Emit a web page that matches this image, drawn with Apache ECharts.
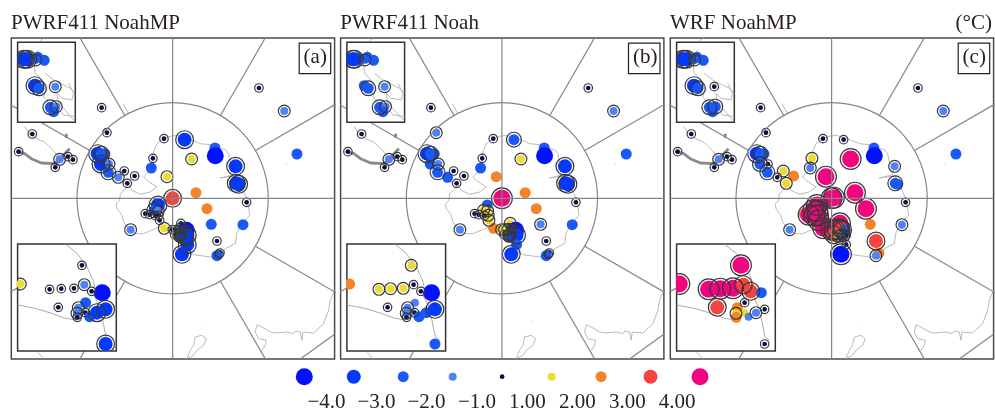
<!DOCTYPE html>
<html><head><meta charset="utf-8">
<style>html,body{margin:0;padding:0;background:#fff}#c{width:995px;height:412px}</style>
<script src="https://cdn.jsdelivr.net/npm/echarts@6/dist/echarts.min.js"></script>
</head><body><div id="c"></div>
<script>
// Classes 0..8 follow the legend. A trailing r means the station carries the outer ring; '-' means not drawn.
const legendLabels = ['\u22124.0','\u22123.0','\u22122.0','\u22121.0','1.00','2.00','3.00','4.00'];
const legendLabelX = [0.45,1.46,2.47,3.49,4.51,5.52,6.53,7.54];
const classColors = ['#0412fb','#0438fb','#1a58f8','#4f82f6','#0b0b4a','#ecdc30','#f4832a','#f5433f','#f0057f'];
const classSizes = [17,14,11,8,4.7,8,11,14,17];
const panelTitles = ['PWRF411 NoahMP','PWRF411 Noah','WRF NoahMP'];
const panelTags = ['(a)','(b)','(c)'];

const mainX = [776,852,890,304,320,96,55,178,203,218,165,292,303,314,302,326,324,354,372,403,381,458,453,491,553,574,644,645,706,708,715,739,587,620,633,728,650,659,656,650,500,517,524,473,462,474,476,478,435,448,465,391,
  492,542,516,525,536,544,550,558,523,545,539,538,538,545,548,554,561,561,545];
const mainY = [263,332,461,322,397,401,454,477,469,478,501,460,460,461,491,491,516,531,512,527,549,474,503,415,418,476,443,466,498,549,552,606,577,625,672,673,722,758,762,766,529,594,592,614,630,632,645,660,640,643,646,688,
  684,669,688,688,687,684,689,690,703,699,703,708,711,707,710,707,704,733,762];
const mainA = ['4r','3r','2','4r','4r','4r','4r','3r','4r','4r','4r','1r','2r','2','1r','3r','2r','3r','4r','4r','4r','4r','2','4r','1r','5r','2','0','1r','1r','1r','4r','6','6','2','2','4r','4r','4r','2','5r','7r','-','1r','2r','3r','4r','4r','4r','4r','4r','3r',
  '5r','4r','4r','4r','4r','3r','4r','0','4r','2','3r','3r','4r','4r','2','1r','1r','1r','1r'];
const mainB = ['4r','3r','2','4r','3r','4r','4r','3r','4r','4r','4r','1r','2r','2','2','3r','2r','2','4r','4r','4r','4r','2','4r','2r','5r','2','0','1r','1r','1r','4r','6','6','3r','2','4r','4r','4r','2','6','8r','-','2','5r','5r','5r','5r','4r','4r','4r','3r',
  '6','5r','5r','5r','5r','4r','4r','0','4r','3','3r','3r','4r','4r','2','2','1r','2','1r'];
const mainC = ['4r','3r','2','4r','4r','4r','4r','3r','4r','4r','4r','1r','2r','2','2r','4r','2r','4r','5r','6','5r','5r','3r','4r','4r','8r','2','0','3r','2r','2','4r','8r','8r','6','3r','7r','6','-','3r','8r','8r','8r','8r','8r','8r','8r','8r','6','8r','8r','3r',
  '8r','8r','8r','8r','8r','7r','7r','2','7r','4r','6','5r','6','5','3','3r','4r','4r','0r'];

const topX = [70,75,82,106,113,132,104,116,165,150,168,160];
const topY = [178,178,178,180,172,181,257,265,260,322,320,335];
const topA = ['1r','1r','1r','3r','2','2','1r','2r','3r','2r','3r','2'];
const topB = ['1r','1r','-','3r','2','2','2','2r','3r','2r','3r','2'];
const topC = ['1r','1r','1r','3r','2','2','1r','2r','4r','2r','2r','2'];

const lowX = [60,245,148,183,221,252,274,306,174,256,234,230,231,255,268,290,316,316];
const lowY = [852,796,868,866,865,854,874,878,922,908,923,940,952,938,950,938,928,1032];
const lowA = ['5r','4r','4r','4r','4r','3r','4r','0','4r','2','3r','3r','4r','4r','2','1r','1r','1r'];
const lowB = ['6','5r','5r','5r','5r','4r','4r','0','4r','3','3r','3r','4r','4r','2','2','1r','2'];
const lowC = ['8r','8r','8r','8r','8r','7r','7r','2','7r','4r','6','5r','6','5','3','3r','4r','4r'];

const mainCoasts = [
  [[490,415],[510,408],[530,405],[570,417],[600,430],[630,433],[655,445],[675,447],[685,460],[690,485],[705,505],[700,522],[675,530],[660,533],[685,529],[708,527],[725,565],[738,590],[745,620],[748,645],[730,665],[710,697],[705,730],[675,745],[670,760],[630,770],[580,763],[565,753],[555,745],[549,700],[520,690],[490,675],[430,700],[410,700],[392,695],[370,665],[365,645],[350,625],[348,610],[358,600],[360,580],[372,570],[385,552],[395,570],[420,582],[450,575],[470,560],[440,540],[430,530],[450,510],[455,490],[458,460],[470,430],[490,415]],
  [[73,378],[88,400],[108,415],[133,425],[143,435],[163,455],[173,470]],
  [[605,1005],[618,1015],[610,1035],[590,1050],[580,1065],[560,1075],[555,1075],[570,1050],[580,1035],[585,1010],[605,1005]],
  [[785,1050],[795,1035],[798,1020],[775,1015],[765,995],[770,973],[785,980],[810,995],[825,998],[860,995],[880,1000],[885,992],[900,995],[905,1020],[908,995],[940,998],[970,970],[985,930],[990,900],[1003,870]],
  [[112,1056],[132,1076]],[[120,122],[132,113]],[[368,310],[385,340]],[[607,960],[609,961]],[[855,490],[858,493]]
];
const thickCoasts = [
  [[48,453],[73,460],[93,475],[123,488],[163,490],[183,470],[208,445]],
  [[198,400],[198,412]]
];
const topCoasts = [
  [[115,150],[100,180],[105,220],[120,235],[140,270],[130,290],[145,310],[175,325],[190,345],[225,350]],
  [[135,220],[160,240],[190,255],[210,265],[225,280]],
  [[205,250],[220,280],[215,300],[185,295],[170,280],[175,310],[190,325],[220,360]]
];
const lowCoasts = [
  [[195,732],[230,760],[260,800],[280,845],[285,870],[280,885],[295,915],[307,960],[317,1010],[330,1020]],
  [[52,915],[105,925],[155,940],[195,955],[230,960]],
  [[262,1001],[264,1003]]
];
const sideLines = [[[900,1076],[1003,1002]]];

const rayAngles = [30,60,120,150,210,240,300,330];
const poleCenter = [517,594];
const ringRadius = 287;

const panelLefts = [11.3,340.6,670.3];
const panelTagged = [[mainA,topA,lowA],[mainB,topB,lowB],[mainC,topC,lowC]];

function stations(xs,ys,codes){
  const fills=[],rings=[];
  codes.forEach((c,i)=>{
    if(c==='-')return;
    const k=parseInt(c);
    fills.push([xs[i],ys[i],k]);
    if(c.endsWith('r'))rings.push([xs[i],ys[i],k]);
  });
  return {fills,rings};
}
function fillItem(p,api){
  const k=api.value(2),c=api.coord([api.value(0),api.value(1)]);
  return {type:'circle',shape:{cx:c[0],cy:c[1],r:classSizes[k]/2},style:{fill:classColors[k]}};
}
function ringItem(p,api){
  const k=api.value(2),c=api.coord([api.value(0),api.value(1)]);
  return {type:'circle',shape:{cx:c[0],cy:c[1],r:classSizes[k]/2+1.9},style:{fill:'none',stroke:'#383838',lineWidth:1.2}};
}
function circleItem(p,api){
  const c=api.coord([api.value(0),api.value(1)]);
  return {type:'circle',shape:{cx:c[0],cy:c[1],r:api.size([api.value(2),0])[0]},style:{fill:'none',stroke:'#858585',lineWidth:1.2}};
}

const grids=[],xAxes=[],yAxes=[],series=[],titles=[],graphics=[];
function addGrid(l,t,w,h,xr,yr,z,border){
  grids.push({show:true,left:l,top:t,width:w,height:h,z:z,backgroundColor:z>2?'#fff':'transparent',borderColor:border,borderWidth:1.5});
  const i=grids.length-1;
  xAxes.push({gridIndex:i,type:'value',min:xr[0],max:xr[1],show:false});
  yAxes.push({gridIndex:i,type:'value',min:yr[0],max:yr[1],inverse:true,show:false});
  return i;
}
function addLine(i,pts,color,width,z){
  series.push({type:'line',xAxisIndex:i,yAxisIndex:i,data:pts,showSymbol:false,silent:true,z:z,clip:true,animation:false,
    lineStyle:{color:color,width:width}});
}
function addMarks(i,set,z){
  const common={type:'custom',xAxisIndex:i,yAxisIndex:i,clip:true,silent:true,z:z,encode:{x:0,y:1},animation:false};
  series.push(Object.assign({},common,{renderItem:fillItem,data:set.fills}));
  series.push(Object.assign({},common,{renderItem:ringItem,data:set.rings}));
}

panelLefts.forEach((L,p)=>{
  const [ma,ta,la]=panelTagged[p];
  const g=addGrid(L,38,323.3,321,[33,1003],[113,1076],1,'#4a4a4a');
  mainCoasts.forEach(c=>addLine(g,c,'#a8a8a8',0.8,2));
  thickCoasts.forEach(c=>addLine(g,c,'#8a8a8a',2.8,2));
  sideLines.forEach(c=>addLine(g,c,'#858585',1.2,2));
  addMarks(g,stations(mainX,mainY,ma),3);
  addLine(g,[[33,poleCenter[1]],[1003,poleCenter[1]]],'#858585',1.2,4);
  addLine(g,[[poleCenter[0],113],[poleCenter[0],1076]],'#858585',1.2,4);
  rayAngles.forEach(a=>{
    const s=Math.sin(a*Math.PI/180),co=Math.cos(a*Math.PI/180);
    addLine(g,[[poleCenter[0]+ringRadius*s,poleCenter[1]-ringRadius*co],[poleCenter[0]+1000*s,poleCenter[1]-1000*co]],'#858585',1.2,4);
  });
  series.push({type:'custom',xAxisIndex:g,yAxisIndex:g,silent:true,z:4,encode:{x:0,y:1},renderItem:circleItem,
    data:[[poleCenter[0],poleCenter[1],ringRadius]],animation:false});

  const t=addGrid(L+6.3,42.3,57.7,80,[52,225],[127,367],5,'#333');
  topCoasts.forEach(c=>addLine(t,c,'#a8a8a8',0.8,6));
  addMarks(t,stations(topX,topY,ta),7);

  const b=addGrid(L+6.3,244,98.7,107,[52,348],[732,1053],5,'#333');
  lowCoasts.forEach(c=>addLine(b,c,'#a0a0a0',0.9,6));
  addMarks(b,stations(lowX,lowY,la),7);

  titles.push({text:panelTitles[p],left:L-0.3,top:13,padding:0,textStyle:{fontFamily:'Liberation Serif',fontSize:21,fontWeight:'normal',color:'#2a2020'}});
  graphics.push({type:'rect',left:L+287.3,top:42.5,shape:{width:31.5,height:30.5},style:{fill:'#fff',stroke:'#222',lineWidth:1.2},z:20});
  graphics.push({type:'text',left:L+292.3,top:47,style:{text:panelTags[p],font:'21px "Liberation Serif"',fill:'#2a2020'},z:21});
});
titles.push({text:'(\u00b0C)',right:3,top:13,padding:0,textStyle:{fontFamily:'Liberation Serif',fontSize:21,fontWeight:'normal',color:'#2a2020'}});

// legend strip
const lg=addGrid(304.3,376.7,395.7,26,[0,8],[0,1],1,'transparent');
grids[lg].show=false;
series.push({type:'scatter',xAxisIndex:lg,yAxisIndex:lg,clip:false,silent:true,animation:false,
  data:classColors.map((c,i)=>({value:[i,0],itemStyle:{color:c,opacity:1},symbolSize:classSizes[i]}))});
series.push({type:'scatter',xAxisIndex:lg,yAxisIndex:lg,clip:false,silent:true,animation:false,symbolSize:1,itemStyle:{color:'transparent',opacity:1},
  data:legendLabels.map((t,i)=>({value:[legendLabelX[i],1],label:{show:true,position:'inside',formatter:t,fontFamily:'Liberation Serif',fontSize:21,color:'#2a2020',opacity:1}}))});

const chart=echarts.init(document.getElementById('c'),null,{renderer:'canvas'});
chart.setOption({animation:false,title:titles,grid:grids,xAxis:xAxes,yAxis:yAxes,series:series,graphic:graphics});
</script></body></html>
